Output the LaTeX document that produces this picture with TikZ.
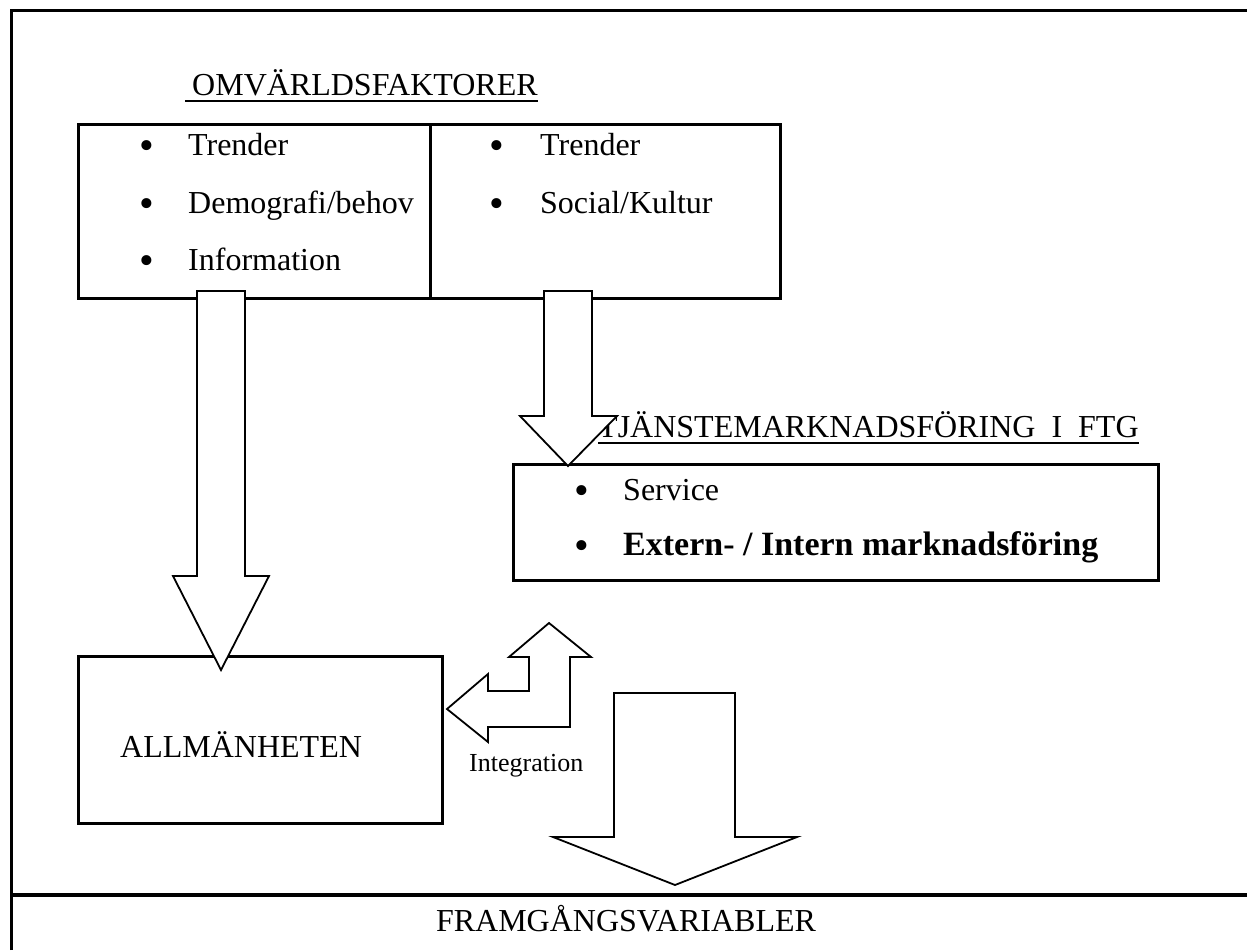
\documentclass[tikz,border=0pt]{standalone}
\usepackage{fontspec}
\setmainfont{Liberation Serif}
\begin{document}
\begin{tikzpicture}[x=1pt,y=-1pt,
  frameline/.style={line width=3pt},
  boxstyle/.style={draw, line width=2.5pt, anchor=north west, inner sep=0pt},
  blockarrow/.style={draw, fill=white, line width=1.8pt, line join=miter},
  txt/.style={font=\fontsize{32}{38}\selectfont, anchor=base west, inner sep=0pt},
  bul/.style={font=\fontsize{42}{46}\selectfont, anchor=base, inner sep=0pt, yshift=-4pt},
  uline/.style={line width=2pt}
]
\useasboundingbox (0,0) rectangle (1247,950);
% outer frame
\draw[frameline] (11,950) -- (11,11) -- (1247,11);
\draw[line width=3.5pt] (11,895) -- (1247,895);

% heading
\node[txt] (om) at (192,95) {OMVÄRLDSFAKTORER};
\draw[uline] ([xshift=-7pt,yshift=-6pt]om.base west) -- ([yshift=-6pt]om.base east);

% top boxes
\node[boxstyle, minimum width=352pt, minimum height=174pt] (lbox) at (77,123) {};
\node[boxstyle, minimum width=350pt, minimum height=174pt] (rbox) at (429,123) {};

\node[bul] (b1) at (147,155) {\textbullet};
\node[txt] (t1) at (188,155) {Trender};
\node[bul] (b2) at (147,213) {\textbullet};
\node[txt] (t2) at (188,213) {Demografi/behov};
\node[bul] (b3) at (147,270) {\textbullet};
\node[txt] (t3) at (188,270) {Information};

\node[bul] (b4) at (497,155) {\textbullet};
\node[txt] (t4) at (540,155) {Trender};
\node[bul] (b5) at (497,213) {\textbullet};
\node[txt] (t5) at (540,213) {Social/Kultur};

% service heading
\node[txt] (tj) at (598,437) {TJÄNSTEMARKNADSFÖRING\ \ I\ \ FTG};
\draw[uline] ([yshift=-6pt]tj.base west) -- ([yshift=-6pt]tj.base east);

% service box
\node[boxstyle, minimum width=645pt, minimum height=116pt] (sbox) at (512,463) {};
\node[bul] (b6) at (582,500) {\textbullet};
\node[txt] (t6) at (623,500) {Service};
\node[bul] (b7) at (582,555) {\textbullet};
\node[txt, font=\fontsize{34}{38}\selectfont\bfseries] (t7) at (623,555) {Extern- / Intern marknadsföring};

% allmänheten box
\node[boxstyle, minimum width=364pt, minimum height=167pt] (abox) at (77,655) {};
\node[txt] (al) at (120,757) {ALLMÄNHETEN};

% block arrows
\draw[blockarrow] (197,291) -- (245,291) -- (245,576) -- (269,576) -- (221,670) -- (173,576) -- (197,576) -- cycle;
\draw[blockarrow] (544,291) -- (592,291) -- (592,416) -- (617,416) -- (568,466) -- (520,416) -- (544,416) -- cycle;
\draw[blockarrow] (549,623) -- (591,657) -- (570,657) -- (570,727) -- (488,727) -- (488,742) -- (447,709) -- (488,674) -- (488,691) -- (529,691) -- (529,657) -- (509,657) -- cycle;
\draw[blockarrow] (614,693) -- (735,693) -- (735,837) -- (797,837) -- (675,885) -- (553,837) -- (614,837) -- cycle;

\node[txt, font=\fontsize{26}{30}\selectfont] (ig) at (469,771) {Integration};

% bottom
\node[txt, anchor=base] (fr) at (626,931) {FRAMGÅNGSVARIABLER};
\end{tikzpicture}
\end{document}
